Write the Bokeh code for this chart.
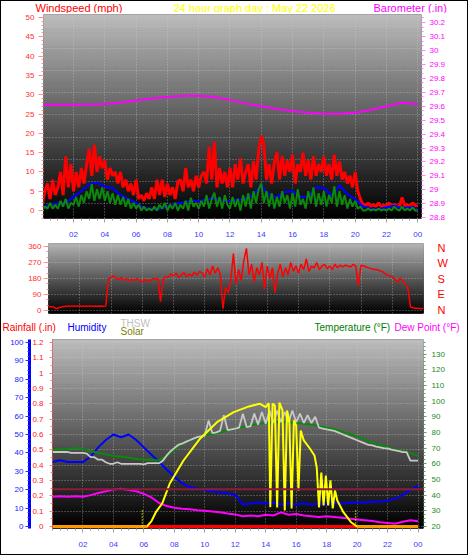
import numpy as np
from bokeh.plotting import figure
from bokeh.models import (Range1d, LinearAxis, FixedTicker, SingleIntervalTicker,
                          Label, Span, CustomJSTickFormatter)
from bokeh.layouts import column
from bokeh.embed import file_html
from bokeh.resources import INLINE

# ------------------------------------------------------------------ data
hour_ticks = [2, 4, 6, 8, 10, 12, 14, 16, 18, 20, 22, 24]
hour_labels = ["02", "04", "06", "08", "10", "12", "14", "16", "18", "20", "22", "00"]

t10 = np.arange(145) / 6.0   # 10-minute samples
t15 = np.arange(97) / 4.0    # 15-minute samples
t30 = np.arange(49) / 2.0    # 30-minute samples
t60 = np.arange(25) * 1.0    # hourly samples

wind_gust_mph = [
    1.5, 5, 7, 3, 8, 4,
    6, 10, 4, 14, 6, 12,
    5, 10, 6, 11, 7, 12,
    16, 9, 17, 10, 14, 11,
    13, 8, 11, 9, 10, 7,
    10, 6, 8, 5, 7, 4,
    8, 3, 4, 2.5, 4.5, 3,
    6, 3, 8, 4, 8, 3.5,
    7, 4, 6, 3, 7.5, 8,
    5, 11, 6, 8, 5, 9,
    6, 9, 10, 7, 16.5, 8,
    17.8, 6, 11, 7, 10, 6,
    11, 6, 12, 8, 13.5, 7,
    10, 12, 6, 12.8, 8, 15.7,
    19.3, 17, 8, 12, 7, 12.5,
    15.2, 8, 14, 9, 13, 10,
    14.5, 7, 12, 10, 15, 9,
    13, 8, 14, 9, 12, 10,
    14, 9, 12, 8, 14.4, 9,
    12.7, 8, 10, 7, 9, 6,
    10, 5, 3, 1.5, 1.2, 2,
    1, 1.5, 1, 2, 1, 1.3,
    1.2, 2, 1, 1.5, 1.2, 1,
    3.4, 1.2, 1.5, 1, 2, 1.3,
    1.2]

wind_avg_mph = [
    0.8, 1.5, 1.8, 2.0, 3.5, 5.0, 6.8, 7.2, 6.2, 5.8, 4.0, 3.0,
    2.0, 0.6, 0.4, 0.5, 1.0, 1.8, 2.0, 2.6, 2.4, 2.8, 3.2, 2.6,
    2.4, 2.8, 3.0, 4.2, 6.5, 4.0, 3.5, 4.8, 5.0, 3.6, 3.4, 6.0,
    5.8, 3.8, 6.5, 4.2, 3.0, 1.0, 0.5, 0.4, 0.8, 1.2, 0.6, 0.8,
    0.5]

wind_speed_mph = [
    0, 1, 0.5, 2, 0.5, 1.5,
    0.5, 2.5, 1, 3, 0.5, 2,
    1.5, 3.5, 1, 4, 2, 5,
    3, 6.8, 2.5, 5.5, 3, 6,
    2.5, 5, 2, 4.5, 1.5, 4,
    1.5, 3.5, 1, 3, 0.5, 2,
    0.5, 1.5, 0, 1, 0, 0.5,
    0, 1, 0, 1.5, 0.5, 2,
    0, 1.5, 0.5, 2, 0, 1.5,
    0.5, 2.5, 0, 3.3, 1, 2,
    0.5, 2.5, 1, 4, 0.5, 3,
    4.6, 1, 3.5, 0.5, 4, 1.5,
    0.5, 3.5, 1, 3, 0, 4,
    1, 4.5, 0.5, 5, 2, 5.5,
    7, 2, 5, 1, 4.5, 0.5,
    3.5, 1, 5, 2, 4, 0.5,
    4.5, 1, 5.5, 1.5, 3, 0.5,
    5, 2, 6, 1, 4.5, 1.5,
    5, 1, 4, 2, 6.3, 1,
    5, 1.5, 4, 0.5, 3, 1,
    2.5, 0.5, 1, 0, 0, 0.5,
    0, 0.3, 0, 0.5, 0, 0.3,
    0, 0.5, 0, 1, 0.3, 0,
    1, 0, 0.5, 0, 0.8, 0,
    0]

barometer_in = [29.61, 29.61, 29.61, 29.612, 29.615, 29.625, 29.64, 29.655,
                29.665, 29.675, 29.675, 29.665, 29.645, 29.62, 29.60, 29.58,
                29.565, 29.552, 29.545, 29.545, 29.552, 29.575, 29.60, 29.625,
                29.615]

wind_dir_deg = [
    20, 22, 18, 10, 15, 20,
    22, 24, 25, 25, 24, 25,
    25, 24, 24, 25, 25, 24,
    25, 24, 25, 24, 25, 178,
    185, 195, 180, 175, 185, 170,
    180, 165, 175, 170, 180, 168,
    160, 175, 165, 170, 180, 175,
    180, 50, 175, 190, 185, 205,
    195, 210, 185, 200, 215, 190,
    205, 195, 215, 200, 220, 210,
    190, 235, 200, 250, 210, 240,
    200, 10, 130, 100, 170, 320,
    150, 230, 170, 280, 350, 200,
    260, 160, 240, 200, 270, 120,
    250, 180, 240, 100, 210, 260,
    190, 240, 200, 270, 220, 250,
    210, 260, 230, 290, 220, 250,
    240, 270, 230, 250, 260, 235,
    250, 230, 260, 240, 255, 245,
    255, 250, 245, 260, 250, 140,
    255, 250, 245, 240, 235, 230,
    230, 225, 220, 210, 200, 195,
    190, 175, 160, 180, 170, 150,
    125, 20, 15, 12, 12, 10,
    12]
compass_ticks = [0, 90, 180, 270, 360]
compass_labels = ["N", "E", "S", "W", "N"]

humidity_pct = [35, 36, 35, 35, 35, 38, 43, 47, 50, 48.5, 50, 47, 43, 39, 35, 31,
                27, 23.5, 21.5, 20.5, 20, 19, 18.5, 18, 17, 12, 12.5, 13, 12.5, 13,
                12, 12.5, 12, 12.5, 12, 12.5, 12, 13, 12.5, 12.7, 13, 13, 13.5, 13.5,
                14, 15, 17, 20, 22]
temperature_f = [69, 69.3, 69.5, 70, 69.5, 68, 67, 66, 65, 64.5, 64, 63, 62.5, 62.5,
                 62, 65, 69, 73, 75, 76.5, 78, 79, 80, 81.5, 82.5, 83.5, 84.5, 85.5,
                 86, 86.5, 86.5, 86.5, 86, 85.5, 85, 84, 83, 82, 80.5, 79, 77.5,
                 75.5, 73.5, 72, 70.5, 69, 68, 67, 65]
dew_point_f = [39, 39.2, 39, 39.2, 39, 40, 41.3, 42.5, 43.6, 44, 43.2, 42.5, 40.8,
               38.5, 35, 33, 32, 31.3, 31, 30.3, 30, 29.5, 29, 28.3, 27.7, 26.5, 27,
               26.5, 27.5, 27, 29, 27.5, 28, 27, 26.5, 26, 26.5, 26, 25.5, 25, 24.5,
               24, 23.5, 22.7, 22.2, 21.7, 23, 24, 23.4]
thsw_f = [
    67.5, 67.5, 67.5, 67.5,
    67.5, 67.0, 67.0, 67.0,
    67.0, 66.5, 64.2, 64.2,
    62.6, 62.6, 61.0, 60.0,
    60.0, 61.0, 60.0, 60.0,
    60.0, 60.0, 60.0, 60.0,
    59.6, 60.4, 60.4, 60.4,
    60.4, 62.0, 65.3, 68.0,
    70.0, 72.0, 72.8, 74.0,
    75.0, 76.0, 77.0, 77.5,
    78.0, 87.6, 79.5, 80.0,
    81.0, 91.0, 81.5, 82.0,
    82.5, 83.0, 92.0, 83.4,
    84.0, 92.0, 85.0, 93.0,
    85.5, 94.0, 86.0, 94.0,
    86.5, 93.0, 86.5, 94.0,
    86.5, 92.0, 86.0, 91.0,
    86.0, 90.0, 83.0, 82.5,
    82.0, 81.5, 81.0, 80.0,
    79.0, 78.0, 77.0, 76.0,
    75.0, 74.0, 73.0, 72.0,
    71.7, 71.0, 70.5, 70.0,
    69.8, 69.0, 68.5, 68.0,
    67.4, 67.4, 62.0, 62.0,
    62.0]
solar_hours = [0, 6.2, 6.5, 6.8, 7.2, 7.7, 8.6, 9.7, 10.8, 11.9, 12.9, 13.6, 14.0,
               14.2, 14.3, 14.45, 14.6, 14.75, 14.9, 15.1, 15.25, 15.4, 15.55, 15.7,
               15.85, 16.0, 16.15, 16.3, 16.5, 16.9, 17.2, 17.35, 17.5, 17.65, 17.8,
               17.95, 18.1, 18.25, 18.4, 18.55, 18.7, 19.1, 19.6, 20.0, 24]
solar_wm2 = [0, 0, 40, 110, 172, 322, 494, 659, 781, 856, 899, 919, 894,
             923, 145, 920, 906, 142, 928, 869, 120, 869, 794, 135,
             794, 756, 270, 719, 644, 584, 532, 442, 142, 404, 157,
             382, 157, 345, 135, 270, 195, 107, 32, 0, 0]
rain_hours = [0, 24]
rainfall_in = [0, 0]
sun_events_h = [5.9, 19.9]
sun_marker_wm2 = 120
rain_ref_in = 0.243

# ------------------------------------------------------------------ style helpers
FONT = "Liberation Sans"
W = 466
GRID = dict(grid_line_color="#cfcfcf", grid_line_alpha=0.55, grid_line_dash="1 2")
one_decimal = CustomJSTickFormatter(code="return String(Math.round(tick*10)/10);")


def make_fig(height, xr, yr, bl, br, bt, bb):
    p = figure(width=W, height=height, x_range=xr, y_range=yr, output_backend="svg",
               toolbar_location=None, min_border_left=bl, min_border_right=br,
               min_border_top=bt, min_border_bottom=bb, outline_line_color=None,
               background_fill_color="black", border_fill_color="white",
               frame_align=False)
    for g in p.grid:
        for k, v in GRID.items():
            setattr(g, k, v)
    return p


def header_fig(height):
    p = figure(width=W, height=height, x_range=Range1d(0, W), y_range=Range1d(height, 0),
               output_backend="svg", toolbar_location=None, x_axis_location=None,
               y_axis_location=None, min_border=0, outline_line_color=None,
               background_fill_color="white", border_fill_color="white",
               frame_align=False)
    p.grid.visible = False
    return p


def gradient(p, top_gray, n=100):
    xr, yr = p.x_range, p.y_range
    edges = np.linspace(yr.start, yr.end, n + 1)
    levels = np.linspace(0, top_gray, n)
    cols = ["#%02x%02x%02x" % (int(v), int(v), int(v)) for v in levels]
    p.quad(left=xr.start, right=xr.end, bottom=edges[:-1], top=edges[1:],
           fill_color=cols, line_color=cols, line_width=1, level="image")


def style_axis(ax, label_color, tick_color, size="8px", tick_out=5, minor_out=2, standoff=4):
    ax.major_label_text_color = label_color
    ax.major_label_text_font = FONT
    ax.major_label_text_font_size = size
    ax.major_tick_line_color = tick_color
    ax.minor_tick_line_color = tick_color
    ax.axis_line_color = None
    ax.major_tick_in = 0
    ax.minor_tick_in = 0
    ax.major_tick_out = tick_out
    ax.minor_tick_out = minor_out
    ax.major_label_standoff = standoff


def text(p, x, y, s, color, size):
    p.add_layout(Label(x=x, y=y, text=s, text_color=color, text_font=FONT,
                       text_font_size=size, text_align="left", text_baseline="middle"))


hour_axis_labels = dict(zip(hour_ticks, hour_labels))
half_hours = list(np.arange(0, 24.01, 0.5))

# ------------------------------------------------------------------ header of the top panel
hdr1 = header_fig(12)
text(hdr1, 34, 6, "Windspeed (mph)", "#ff0000", "11px")
text(hdr1, 172, 6, "24 hour graph day : May 22 2026", "#ffff00", "11px")
text(hdr1, 372, 6, "Barometer (.in)", "#ff00ff", "11px")

# ------------------------------------------------------------------ top: wind + barometer
top = make_fig(228, Range1d(0.08, 24.24), Range1d(-2.07, 50.78), 42, 46, 1, 23)
top.extra_y_ranges = {"baro": Range1d(28.795, 30.257)}
gradient(top, 188)
top.ygrid.ticker = FixedTicker(ticks=[1.8 + 5.74 * k for k in range(9)])

top.line(t10, wind_gust_mph, line_color="#ff0000", line_width=3)
top.line(t30, wind_avg_mph, line_color="#0000ff", line_width=2.2)
top.line(t10, wind_speed_mph, line_color="#0a8a0a", line_width=2)
top.line(t60, barometer_in, line_color="#ff00ff", line_width=2, y_range_name="baro")

top.yaxis.ticker = SingleIntervalTicker(interval=5, num_minor_ticks=5)
style_axis(top.yaxis[0], "#ff3030", "#ff9090")
top.xaxis.ticker = FixedTicker(ticks=hour_ticks, minor_ticks=half_hours)
top.xaxis.major_label_overrides = hour_axis_labels
style_axis(top.xaxis[0], "#3a3aff", "#a0a0a0", tick_out=4, minor_out=2, standoff=9)

baro_ax = LinearAxis(y_range_name="baro",
                     ticker=SingleIntervalTicker(interval=0.1, num_minor_ticks=3),
                     formatter=one_decimal)
style_axis(baro_ax, "#ff00ff", "#ff80ff", tick_out=4, standoff=4)
top.add_layout(baro_ax, "right")

# ------------------------------------------------------------------ middle: direction
mid = make_fig(76, Range1d(0, 24), Range1d(-17, 377), 47, 44, 2, 4)
gradient(mid, 178)
mid.xaxis.ticker = FixedTicker(ticks=hour_ticks)
mid.xaxis.visible = False
mid.yaxis.ticker = FixedTicker(ticks=compass_ticks, minor_ticks=list(range(0, 361, 30)))
style_axis(mid.yaxis[0], "#ff3030", "#ff9090", tick_out=5, standoff=2)
mid.line(t10, wind_dir_deg, line_color="#ff0000", line_width=1.5)

comp_ax = LinearAxis(ticker=FixedTicker(ticks=compass_ticks),
                     major_label_overrides=dict(zip(compass_ticks, compass_labels)))
style_axis(comp_ax, "#ff0000", None, size="11px", tick_out=0, minor_out=0, standoff=14)
mid.add_layout(comp_ax, "right")

# ------------------------------------------------------------------ header of the bottom panel
hdr2 = header_fig(20)
text(hdr2, 119, 5.8, "THSW", "#c0c0c0", "10px")
text(hdr2, 1, 10, "Rainfall (.in)", "#ff0000", "10px")
text(hdr2, 66, 10, "Humidity", "#0000ff", "10px")
text(hdr2, 119, 14.2, "Solar", "#808000", "10px")
text(hdr2, 313, 10, "Temperature (\u00b0F)", "#008000", "10px")
text(hdr2, 393, 10, "Dew Point (\u00b0F)", "#ff00ff", "10px")

# ------------------------------------------------------------------ bottom: rain/humidity/temps/solar
bot = make_fig(217, Range1d(0, 24.36), Range1d(-0.013, 1.22), 51, 44, 2, 26)
bot.extra_y_ranges = {"hum": Range1d(-1.09, 101.6), "temp": Range1d(18.7, 139.3),
                      "solar": Range1d(-15, 1400)}
gradient(bot, 188)

bot.add_layout(Span(location=rain_ref_in, dimension="width", line_color="#8b1c3c",
                    line_width=2))
bot.line(t30, humidity_pct, line_color="#0000ff", line_width=2, y_range_name="hum")
bot.line(t30, temperature_f, line_color="#0a8a0a", line_width=2, y_range_name="temp")
bot.line(t15, thsw_f, line_color="#c8c8c8", line_width=1.8, y_range_name="temp")
bot.line(t30, dew_point_f, line_color="#ff00ff", line_width=2, y_range_name="temp")
bot.line(rain_hours, rainfall_in, line_color="#ff0000", line_width=3)
bot.line(solar_hours, solar_wm2, line_color="#ffff00", line_width=2, y_range_name="solar")
solar_arr = np.array(solar_wm2, dtype=float)
night = np.where(solar_arr == 0, solar_arr, np.nan)
bot.line(solar_hours, night, line_color="#ff9900", line_width=3, y_range_name="solar")
bot.segment(x0=sun_events_h, y0=0, x1=sun_events_h, y1=sun_marker_wm2,
            line_color="#ffff00", line_width=1.5, line_dash="1 2", y_range_name="solar")

bot.yaxis.ticker = SingleIntervalTicker(interval=0.1, num_minor_ticks=2)
bot.yaxis.formatter = one_decimal
style_axis(bot.yaxis[0], "#ff2020", "#ff8080", tick_out=3, minor_out=2, standoff=6)
bot.yaxis[0].axis_line_color = "#ff4040"
bot.yaxis[0].axis_line_dash = "1 1"

hum_ax = LinearAxis(y_range_name="hum",
                    ticker=SingleIntervalTicker(interval=10, num_minor_ticks=4))
style_axis(hum_ax, "#2020ff", "#3030ff", tick_out=4, minor_out=2, standoff=2)
hum_ax.axis_line_color = "#0000ff"
hum_ax.axis_line_width = 3
bot.add_layout(hum_ax, "left")

temp_ax = LinearAxis(y_range_name="temp",
                     ticker=SingleIntervalTicker(interval=10, num_minor_ticks=4))
style_axis(temp_ax, "#1a8a1a", "#60a060", tick_out=3, minor_out=2, standoff=5)
bot.add_layout(temp_ax, "right")

bot.xaxis.ticker = FixedTicker(ticks=hour_ticks, minor_ticks=half_hours)
bot.xaxis.major_label_overrides = hour_axis_labels
style_axis(bot.xaxis[0], "#3a3aff", "#a0a0a0", tick_out=4, minor_out=2, standoff=9)

layout = column(hdr1, top, mid, hdr2, bot, spacing=0,
                styles={"border": "1px solid black"})
open("out.html", "w").write(file_html(layout, INLINE))
